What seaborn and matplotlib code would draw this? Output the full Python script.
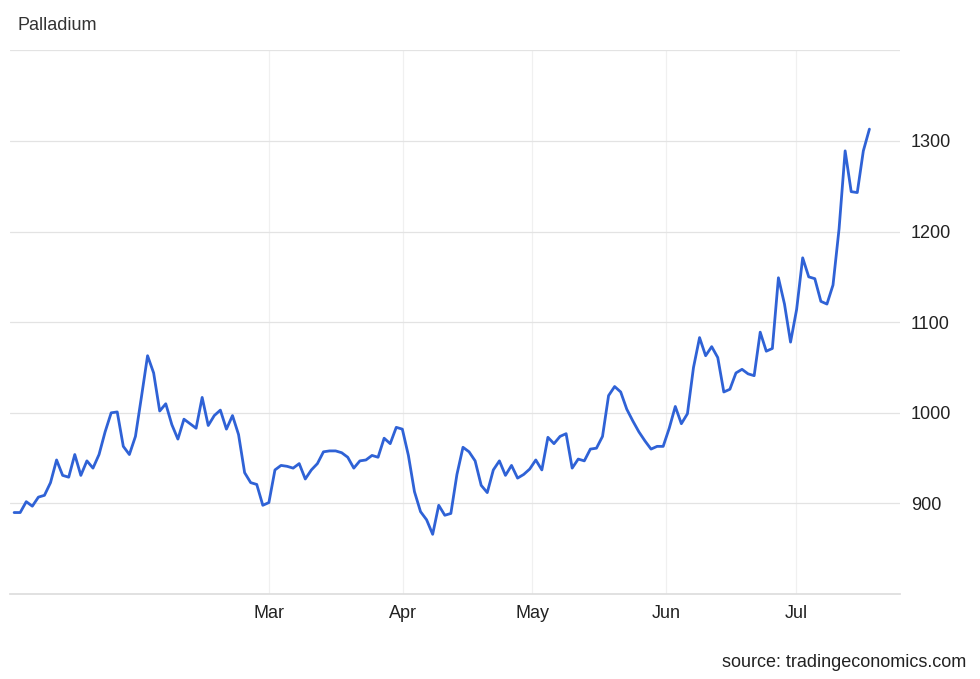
import matplotlib

matplotlib.use("Agg")
import matplotlib.pyplot as plt
import pandas as pd
import seaborn as sns

# daily palladium price (USD/t oz)
prices = [
    890, 890, 902, 897, 907, 909, 923, 948, 931, 929, 954, 931, 947, 939, 954,
    979, 1000, 1001, 963, 954, 974, 1018, 1063, 1044, 1002, 1010, 987, 971, 993,
    988, 983, 1017, 986, 997, 1003, 982, 997, 976, 934, 923, 921, 898, 901, 937,
    942, 941, 939, 944, 927, 937, 944, 957, 958, 958, 956, 951, 939, 947, 948,
    953, 951, 972, 966, 984, 982, 953, 913, 891, 882, 866, 898, 887, 889, 932,
    962, 957, 947, 920, 912, 937, 947, 931, 942, 928, 932, 938, 948, 937, 973,
    966, 974, 977, 939, 949, 947, 960, 961, 974, 1019, 1029, 1023, 1004, 991,
    979, 969, 960, 963, 963, 983, 1007, 988, 999, 1050, 1083, 1063, 1073, 1061,
    1023, 1026, 1044, 1048, 1043, 1041, 1089, 1068, 1071, 1149, 1120, 1078,
    1114, 1171, 1150, 1148, 1123, 1120, 1141, 1203, 1289, 1244, 1243, 1289, 1313,
]
start_date = "2025-01-01"
end_date = "2025-07-18"
month_ticks = ["2025-03-01", "2025-04-01", "2025-05-01", "2025-06-01", "2025-07-01"]
month_labels = ["Mar", "Apr", "May", "Jun", "Jul"]
y_ticks = [900, 1000, 1100, 1200, 1300]

dates = pd.date_range(start_date, end_date, periods=len(prices))
df = pd.DataFrame({"date": dates, "price": prices})

sns.set_theme(style="white")
plt.rcParams["font.family"] = ["Liberation Sans", "DejaVu Sans"]

fig = plt.figure(figsize=(9.8, 6.79), dpi=100)
ax = fig.add_axes([0.01, 0.125, 0.908, 0.801])
sns.lineplot(data=df, x="date", y="price", ax=ax, color="#2f62d6", linewidth=2)

ax.set_xlim(pd.Timestamp("2024-12-31"), pd.Timestamp("2025-07-25"))
ax.set_ylim(800, 1400)
ax.set_xticks(pd.to_datetime(month_ticks))
ax.set_xticklabels(month_labels)
ax.set_yticks(y_ticks + [1400])
ax.set_yticklabels([str(v) for v in y_ticks] + [""])
ax.yaxis.tick_right()
ax.tick_params(axis="both", length=0, labelsize=13, colors="#222222", pad=8)
ax.grid(True, axis="y", color="#e3e3e3", linewidth=0.9)
ax.grid(True, axis="x", color="#f0f0f0", linewidth=0.9)
ax.set_xlabel("")
ax.set_ylabel("")
for side in ["top", "left", "right"]:
    ax.spines[side].set_visible(False)
ax.spines["bottom"].set_color("#dddddd")

fig.text(0.018, 0.962, "Palladium", fontsize=13, color="#333333", va="center")
fig.text(0.986, 0.025, "source: tradingeconomics.com", fontsize=13,
         color="#222222", ha="right", va="center")

fig.savefig("out.png", dpi=100)
